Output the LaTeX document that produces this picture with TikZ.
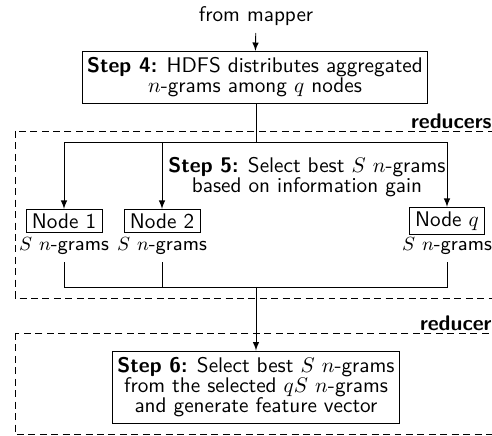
\documentclass[tikz,border=0pt]{standalone}
\usepackage{amsmath}
\usepackage{tikz}
\renewcommand{\familydefault}{\sfdefault}
\def\SNG{$S$ $n$-grams}

\begin{document}
\begin{tikzpicture}[x=0.472pt,y=-0.472pt,>=latex,
  every node/.style={font=\fontsize{10pt}{9.4pt}\selectfont},
  stepbox/.style={draw,align=center,inner xsep=2.2pt,inner ysep=3pt},
  nodebox/.style={draw,inner xsep=2.8pt,inner ysep=2pt},
  sellabel/.style={font=\fontsize{9.4pt}{9.4pt}\selectfont},
  grp/.style={dash pattern=on 3.3pt off 2.1pt},
  grplabel/.style={anchor=south east,inner sep=0pt,font=\bfseries}]
\useasboundingbox (0,0) rectangle (492,436);

% groups of reducers
\draw[grp] (15,131) rectangle (494,298);
\node[grplabel] (lred) at (492,129) {reducers};
\draw[grp] (15,333) rectangle (494,434);
\node[grplabel] (lone) at (492,331) {reducer};

\node (mapper) at (256,16) {from mapper};
\node[stepbox] (step4) at (255,77.5) {\textbf{Step 4:} HDFS distributes aggregated\\ $n$-grams among $q$ nodes};
\draw[->] (mapper) -- (step4);

\node[align=center] (step5) at (307,177) {\textbf{Step 5:} Select best $S$ $n$-grams\\ based on information gain};

\node[nodebox] (n1) at (64,221) {Node 1};
\node[nodebox] (n2) at (162,221) {Node 2};
\node[nodebox] (nq) at (447,221) {Node $q$};
\node[sellabel] (g1) at (64,246) {\SNG};
\node[sellabel] (g2) at (162,246) {\SNG};
\node[sellabel] (gq) at (447,246) {\SNG};

\coordinate (split) at (256,142);
\draw (step4.south -| split) -- (split);
\draw[->] (split) -| (n1);
\draw[->] (split) -| (n2);
\draw[->] (split) -| (nq);

\node[stepbox] (step6) at (256,387) {\textbf{Step 6:} Select best $S$ $n$-grams\\ from the selected $qS$ $n$-grams\\ and generate feature vector};

\coordinate (join) at (256,287);
\draw (g1) |- (join);
\draw (g2) |- (join);
\draw (gq) |- (join);
\draw[->] (join) -- (step6);
\end{tikzpicture}
\end{document}
